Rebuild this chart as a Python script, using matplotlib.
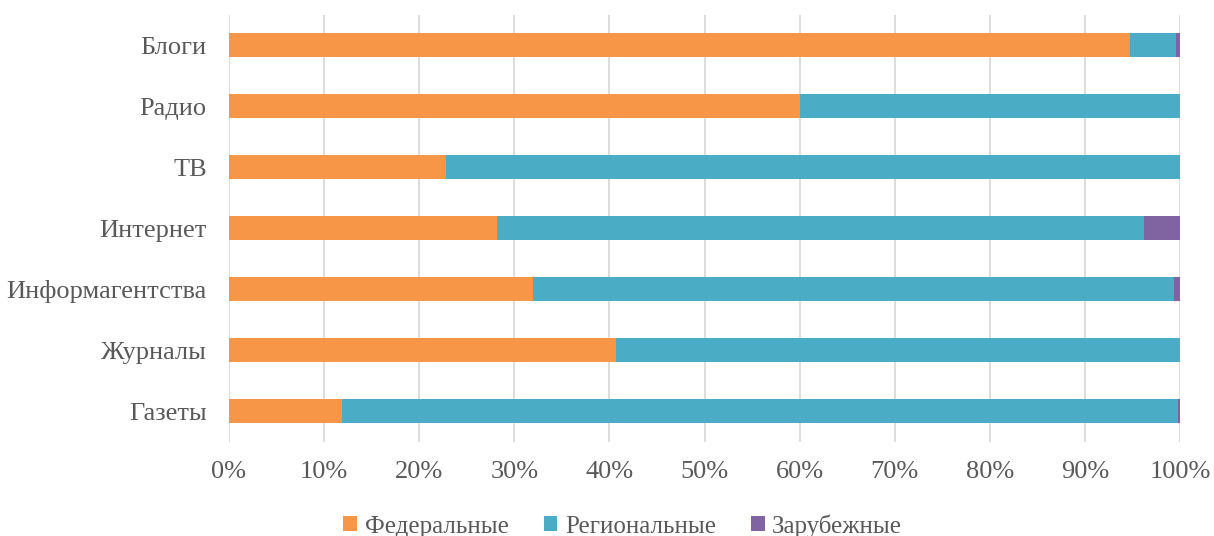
import matplotlib.pyplot as plt
import numpy as np

# Категории (снизу вверх) и доли, %
categories = ['Газеты', 'Журналы', 'Информагентства', 'Интернет', 'ТВ', 'Радио', 'Блоги']
federal = [11.9, 40.7, 32.0, 28.2, 22.8, 60.0, 94.7]
regional = [87.9, 59.3, 67.4, 68.0, 77.2, 40.0, 4.9]
foreign = [0.2, 0.0, 0.6, 3.8, 0.0, 0.0, 0.4]
series_names = ['Федеральные', 'Региональные', 'Зарубежные']
colors = ['#F79646', '#4BACC6', '#8064A2']

plt.rcParams['font.family'] = ['Liberation Serif', 'DejaVu Serif']
text_color = '#595959'

fig = plt.figure(figsize=(12.14, 5.36), dpi=100)
ax = fig.add_axes([229 / 1214, 1 - 441.5 / 536, (1180 - 229) / 1214, 427 / 536])

y = np.arange(len(categories))
left = np.zeros(len(categories))
for vals, name, c in zip([federal, regional, foreign], series_names, colors):
    ax.barh(y, vals, left=left, height=0.39, color=c, label=name, zorder=3)
    left += np.array(vals)

ax.set_xlim(0, 100)
ax.set_ylim(-0.5, len(categories) - 0.5)
ax.set_xticks(np.arange(0, 101, 10))
ax.set_xticklabels([f'{v}%' for v in range(0, 101, 10)])
ax.set_yticks(y)
ax.set_yticklabels(categories)
ax.tick_params(axis='both', length=0, colors=text_color, labelsize=19)
ax.tick_params(axis='x', pad=14)
ax.tick_params(axis='y', pad=16)
ax.grid(axis='x', color='#DADADA', linewidth=1.3, zorder=0)
for s in ax.spines.values():
    s.set_visible(False)

handles, labels = ax.get_legend_handles_labels()
fig.legend(handles, labels, loc='lower center', bbox_to_anchor=(0.513, -0.045), ncol=3,
           frameon=False, fontsize=18, labelcolor=text_color, handlelength=0.55, handleheight=0.55,
           handletextpad=0.3, columnspacing=1.4)

plt.savefig('out.png', dpi=100)
